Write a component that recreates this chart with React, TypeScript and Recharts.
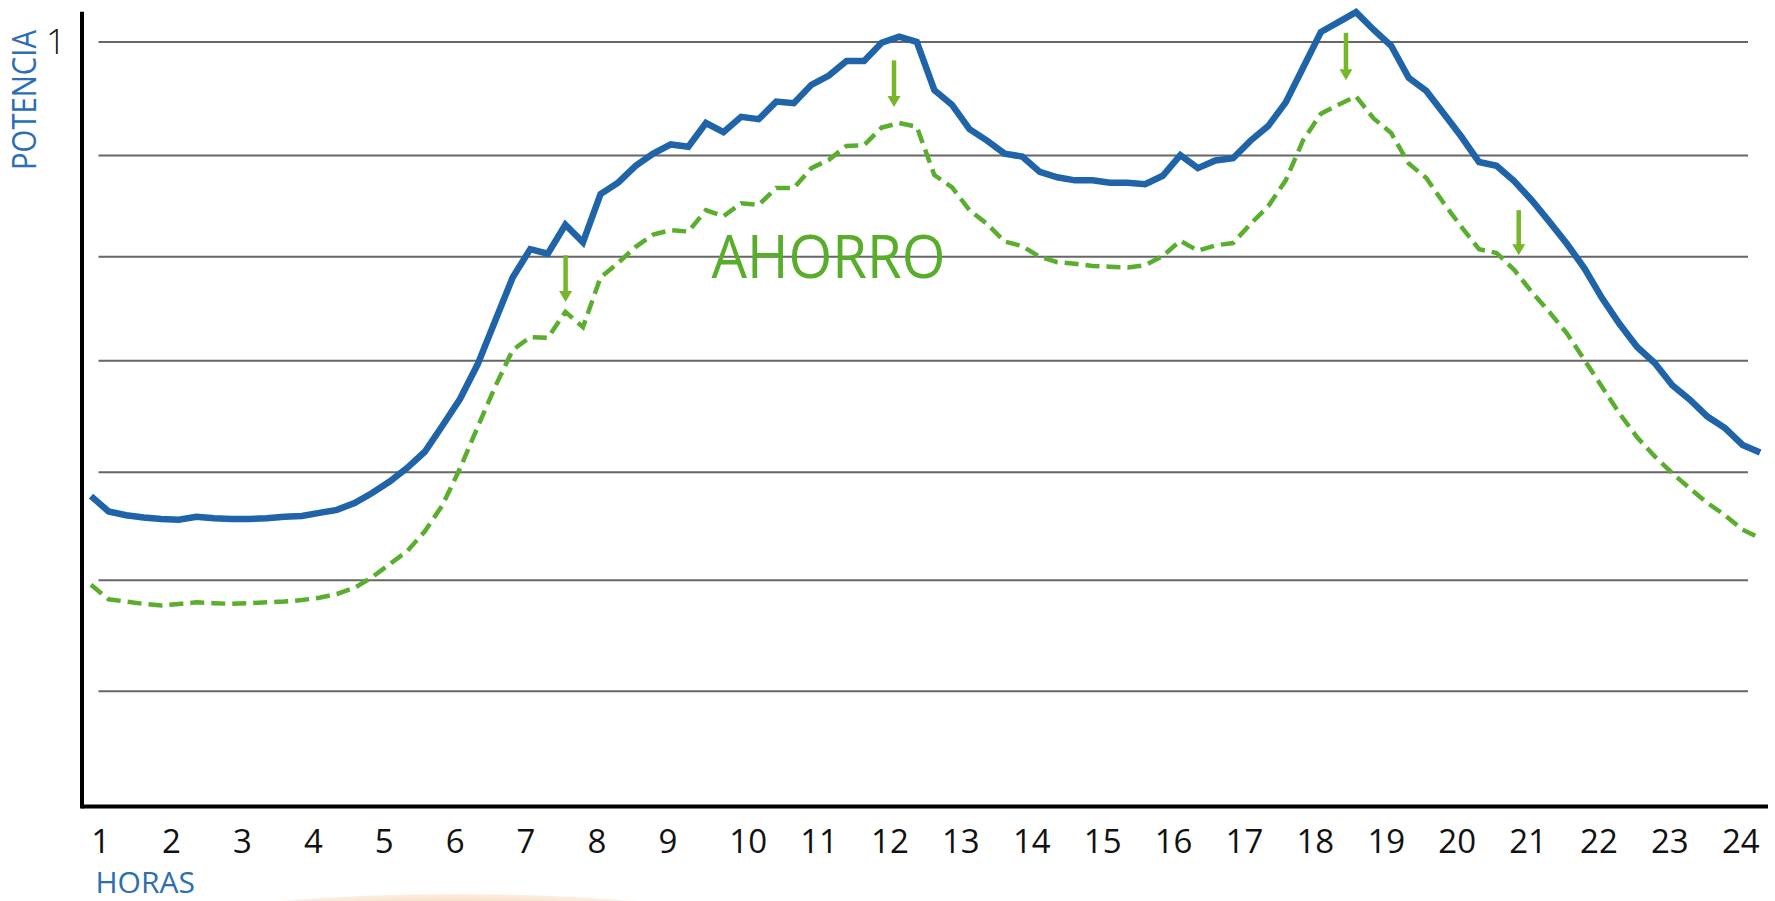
import React from "react";
import { LineChart, Line, XAxis, YAxis, ReferenceLine, ReferenceDot } from "recharts";

// quarter-hour slots, hour 1 .. 24.75
const horas = [
  1, 1.25, 1.5, 1.75, 2, 2.25, 2.5, 2.75, 3, 3.25, 3.5, 3.75,
  4, 4.25, 4.5, 4.75, 5, 5.25, 5.5, 5.75, 6, 6.25, 6.5, 6.75,
  7, 7.25, 7.5, 7.75, 8, 8.25, 8.5, 8.75, 9, 9.25, 9.5, 9.75,
  10, 10.25, 10.5, 10.75, 11, 11.25, 11.5, 11.75, 12, 12.25, 12.5, 12.75,
  13, 13.25, 13.5, 13.75, 14, 14.25, 14.5, 14.75, 15, 15.25, 15.5, 15.75,
  16, 16.25, 16.5, 16.75, 17, 17.25, 17.5, 17.75, 18, 18.25, 18.5, 18.75,
  19, 19.25, 19.5, 19.75, 20, 20.25, 20.5, 20.75, 21, 21.25, 21.5, 21.75,
  22, 22.25, 22.5, 22.75, 23, 23.25, 23.5, 23.75, 24, 24.25, 24.5, 24.75,
];

// curva actual (azul)
const potenciaActual = [
  0.406, 0.386, 0.381, 0.378, 0.376, 0.375, 0.379, 0.377, 0.376, 0.376,
  0.377, 0.379, 0.380, 0.384, 0.388, 0.397, 0.410, 0.425, 0.443, 0.464,
  0.498, 0.533, 0.578, 0.635, 0.692, 0.729, 0.723, 0.761, 0.738, 0.801,
  0.816, 0.838, 0.854, 0.866, 0.863, 0.894, 0.882, 0.902, 0.899, 0.922,
  0.920, 0.944, 0.956, 0.975, 0.975, 0.999, 1.007, 1.000, 0.937, 0.918,
  0.886, 0.871, 0.854, 0.850, 0.830, 0.823, 0.819, 0.819, 0.816, 0.816,
  0.814, 0.825, 0.852, 0.835, 0.845, 0.848, 0.871, 0.890, 0.921, 0.967,
  1.013, 1.026, 1.039, 1.016, 0.995, 0.953, 0.936, 0.906, 0.876, 0.843,
  0.838, 0.818, 0.793, 0.765, 0.736, 0.704, 0.665, 0.631, 0.601, 0.580,
  0.551, 0.532, 0.510, 0.495, 0.473, 0.463,
];

// curva con ahorro (verde discontinua)
const potenciaAhorro = [
  0.290, 0.271, 0.268, 0.265, 0.263, 0.265, 0.267, 0.266, 0.265, 0.266,
  0.267, 0.268, 0.270, 0.273, 0.278, 0.286, 0.300, 0.317, 0.334, 0.360,
  0.394, 0.442, 0.496, 0.549, 0.597, 0.614, 0.613, 0.647, 0.627, 0.692,
  0.711, 0.732, 0.748, 0.754, 0.752, 0.780, 0.772, 0.789, 0.787, 0.809,
  0.809, 0.835, 0.846, 0.864, 0.865, 0.888, 0.894, 0.889, 0.826, 0.810,
  0.780, 0.762, 0.739, 0.733, 0.719, 0.712, 0.710, 0.707, 0.706, 0.705,
  0.708, 0.720, 0.740, 0.727, 0.734, 0.737, 0.762, 0.785, 0.819, 0.872,
  0.906, 0.918, 0.929, 0.900, 0.881, 0.841, 0.822, 0.789, 0.758, 0.729,
  0.724, 0.702, 0.673, 0.647, 0.619, 0.584, 0.549, 0.514, 0.483, 0.458,
  0.436, 0.416, 0.397, 0.381, 0.362, 0.351,
];

const horasEje = [1, 2, 3, 4, 5, 6, 7, 8, 9, 10, 11, 12, 13, 14, 15, 16, 17, 18, 19, 20, 21, 22, 23, 24];
const lineasGuia = [1.0, 0.8515, 0.7192, 0.583, 0.4372, 0.2959, 0.1507];
const ticksPotencia = [1];

const flechas = [
  { t: 7.753, desde: 0.721, hasta: 0.66 },
  { t: 12.426, desde: 0.976, hasta: 0.915 },
  { t: 18.857, desde: 1.012, hasta: 0.95 },
  { t: 21.315, desde: 0.78, hasta: 0.721 },
];

const data = horas.map((t, i) => ({ t, actual: potenciaActual[i], ahorro: potenciaAhorro[i] }));

const AZUL = "#1f63a8";
const VERDE = "#5aae2d";
const FUENTE = "'Open Sans', 'Noto Sans', sans-serif";

const HourTick = (props: any) => {
  const { x, y, payload } = props;
  return (
    <text x={x + 7} y={y + 46} textAnchor="start" fontSize={33} fontFamily={FUENTE} fill="#111">
      {payload.value}
    </text>
  );
};

const Flecha = (props: any) => {
  const { x1, y1, x2, y2 } = props;
  return (
    <g>
      <line x1={x1} y1={y1} x2={x2} y2={y2 - 9} stroke="#76b72a" strokeWidth={4.5} />
      <polygon points={`${x2 - 6.5},${y2 - 11} ${x2 + 6.5},${y2 - 11} ${x2},${y2}`} fill="#76b72a" />
    </g>
  );
};

export default function App() {
  return (
    <div style={{ position: "absolute", left: 0, top: 0, width: 1775, height: 901, overflow: "hidden", background: "#fff" }}>
      <LineChart width={1775} height={901} data={data} margin={{ top: 0, right: 7, bottom: 0, left: 0 }}>
        {/* eje de los datos (cuartos de hora) */}
        <XAxis type="number" dataKey="t" domain={[0.872, 24.862]} height={0} hide />
        {/* eje de las etiquetas de hora */}
        <XAxis
          xAxisId="horas"
          type="number"
          dataKey="t"
          domain={[0.969, 24.749]}
          allowDataOverflow
          ticks={horasEje}
          interval={0}
          height={94.5}
          axisLine={{ stroke: "#000", strokeWidth: 4 }}
          tickLine={false}
          tickSize={0}
          tickMargin={0}
          tick={HourTick}
        />
        <YAxis
          type="number"
          domain={[0, 1.0549]}
          ticks={ticksPotencia}
          width={82}
          axisLine={false}
          tickLine={false}
          tickSize={0}
          tickMargin={16}
          tick={{ fontSize: 35, fill: "#111", fontFamily: FUENTE, fontWeight: 300 }}
        />
        {lineasGuia.map((v) => (
          <ReferenceLine
            key={v}
            ifOverflow="visible"
            segment={[{ x: 1.107, y: v }, { x: 24.577, y: v }]}
            stroke="#666"
            strokeWidth={2}
          />
        ))}
        <ReferenceLine
          ifOverflow="visible"
          segment={[{ x: 0.872, y: 0 }, { x: 0.872, y: 1.037 }]}
          stroke="#000"
          strokeWidth={4}
          strokeLinecap="square"
        />
        <Line
          type="linear"
          dataKey="ahorro"
          stroke={VERDE}
          strokeWidth={4.5}
          strokeDasharray="14 7"
          dot={false}
          isAnimationActive={false}
        />
        <Line
          type="linear"
          dataKey="actual"
          stroke={AZUL}
          strokeWidth={6.5}
          dot={false}
          isAnimationActive={false}
        />
        {flechas.map((f) => (
          <ReferenceLine
            key={f.t}
            ifOverflow="visible"
            segment={[{ x: f.t, y: f.desde }, { x: f.t, y: f.hasta }]}
            shape={Flecha}
          />
        ))}
        <ReferenceDot
          x={9.829}
          y={0.691}
          ifOverflow="visible"
          shape={(p: any) => (
            <text x={p.cx} y={p.cy} fontSize={60} fill="#58ad2b" fontFamily={FUENTE} textLength={234} lengthAdjust="spacingAndGlyphs">
              AHORRO
            </text>
          )}
        />
      </LineChart>
      <svg width={1775} height={901} style={{ position: "absolute", left: 0, top: 0, pointerEvents: "none" }}>
        <defs>
          <radialGradient id="brillo" cx="50%" cy="50%" r="50%">
            <stop offset="0%" stopColor="#f3cda4" stopOpacity={1} />
            <stop offset="80%" stopColor="#f8e1c8" stopOpacity={1} />
            <stop offset="96%" stopColor="#fbede0" stopOpacity={1} />
            <stop offset="100%" stopColor="#ffffff" stopOpacity={0} />
          </radialGradient>
        </defs>
        <ellipse cx={457} cy={933} rx={315} ry={40} fill="url(#brillo)" />
        <text
          transform="translate(36, 170) rotate(-90)"
          fontSize={32}
          fill="#2c6db3"
          fontFamily={FUENTE}
          textLength={140}
          lengthAdjust="spacingAndGlyphs"
        >
          POTENCIA
        </text>
        <text x={95.5} y={893} fontSize={30} fill="#2c6db3" fontFamily={FUENTE}>
          HORAS
        </text>
      </svg>
    </div>
  );
}
